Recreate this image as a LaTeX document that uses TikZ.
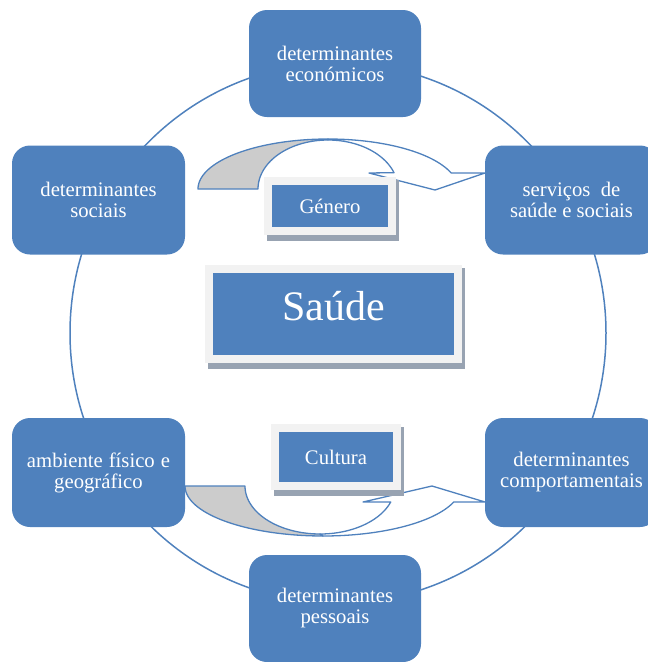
\documentclass[tikz,border=0pt]{standalone}
\usepackage{fontspec}
\setmainfont{Liberation Serif}
\usetikzlibrary{backgrounds}
\definecolor{boxblue}{RGB}{79,129,189}
\definecolor{backgray}{RGB}{204,204,204}
\definecolor{framegray}{RGB}{242,242,242}
\definecolor{shadowgray}{RGB}{152,163,178}
\tikzset{
  factor/.style={rectangle, rounded corners=18pt, fill=boxblue, text=white,
    align=center, minimum width=173pt, minimum height=109pt, inner sep=0pt,
    font=\fontsize{20.7}{21}\selectfont},
  tag/.style={rectangle, fill=boxblue, text=white, inner sep=0pt,
    font=\fontsize{20.7}{21}\selectfont},
  bandarrow/.style={draw=boxblue, line width=1.3pt, line join=round},
}

\begin{document}
\begin{tikzpicture}[x=1pt,y=-1pt]
\clip (0,0) rectangle (648,662);
\node[factor, minimum width=172pt, minimum height=107pt] (economicos) at (335,63.5) {determinantes\\económicos};
\node[factor] (sociais) at (98.5,200) {determinantes\\sociais};
\node[factor] (servicos) at (571.5,200) {serviços~~de\\saúde e sociais};
\node[factor] (ambiente) at (98.5,472.5) {ambiente\hspace{6pt}físico\hspace{6pt}e\\geográfico};
\node[factor] (comportamentais) at (571.5,472.5) {determinantes\\comportamentais};
\node[factor, minimum width=172pt, minimum height=107pt] (pessoais) at (335,608.5) {determinantes\\pessoais};

\node[tag, minimum width=241pt, minimum height=82pt, font=\fontsize{42}{44}\selectfont] (saude) at (333.5,314) {\raisebox{17pt}{Saúde}};
\node[tag, minimum width=116pt, minimum height=42pt] (genero) at (330,206) {Género};
\node[tag, minimum width=114pt, minimum height=50pt] (cultura) at (336,457) {Cultura};

\begin{scope}[on background layer]
\draw[boxblue, line width=1.5pt] (338,333) ellipse [x radius=268, y radius=270];

\filldraw[bandarrow, fill=backgray]
  plot[domain=180:270, samples=40] ({328+130*cos(\x)},{189+50*sin(\x)})
  -- plot[domain=270:180, samples=40] ({328+70*cos(\x)},{189+49*sin(\x)}) -- cycle;
\filldraw[bandarrow, fill=white]
  plot[domain=270:341.3, samples=40] ({328+130*cos(\x)},{189+50*sin(\x)})
  -- (485,173) -- (435,190) -- (369,173)
  -- plot[domain=340.5:270, samples=40] ({328+70*cos(\x)},{189+49*sin(\x)}) -- cycle;

\filldraw[bandarrow, fill=backgray]
  plot[domain=180:90, samples=40] ({323+138*cos(\x)},{486+50*sin(\x)})
  -- plot[domain=90:180, samples=40] ({320+75*cos(\x)},{486+48*sin(\x)}) -- cycle;
\filldraw[bandarrow, fill=white]
  plot[domain=90:18.7, samples=40] ({323+138*cos(\x)},{486+50*sin(\x)})
  -- (485,502) -- (432,486) -- (363,502)
  -- plot[domain=19.5:90, samples=40] ({320+75*cos(\x)},{486+48*sin(\x)}) -- cycle;

\foreach \n in {saude,genero,cultura} {
  \fill[shadowgray] ([shift={(-5,-5)}]\n.north west) rectangle ([shift={(11,14)}]\n.south east);
  \fill[framegray] ([shift={(-8,-8)}]\n.north west) rectangle ([shift={(8,8)}]\n.south east);
}
\end{scope}
\end{tikzpicture}
\end{document}
